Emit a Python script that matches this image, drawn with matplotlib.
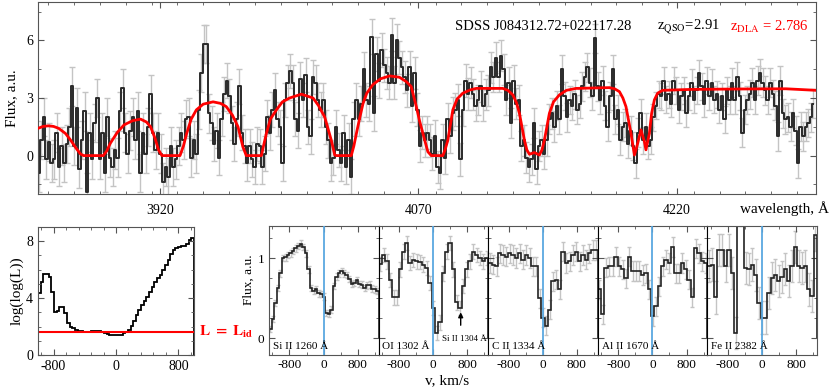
import numpy as np
import matplotlib
matplotlib.use("Agg")
import matplotlib.pyplot as plt
from matplotlib.ticker import MultipleLocator
import matplotlib.transforms as mtransforms

# ---------------- data ----------------
# top panel: observed flux (a.u.), uniform grid from 3849.5 to 4299.5 A
flux = [
    -0.9, 0.8, 2.0, -0.2, 0.7, -0.4, -0.2, 1.2, -0.6, 0.5, -0.4, 0.6, 1.5, 3.6, 0.5, 2.5,
    -0.7, 0.8, 2.3, -1.9, 1.2, -0.2, 1.7, 3.0, -0.2, 1.2, -0.9, 2.0, -0.1, -0.6, 0.3, -0.1,
    2.3, 3.5, 1.2, 0.1, 1.3, 2.0, 0.8, 2.3, -0.9, 1.2, 0.1, 1.5, 3.2, 1.2, 0.3, 1.2,
    0.1, -1.4, -0.6, -1.1, 0.5, -0.6, -0.2, 0.5, 1.2, 0.8, 1.9, 2.0, -0.1, 0.8, 0.1, 2.4,
    4.3, 5.8, 5.8, 2.2, 1.7, 0.6, 1.3, -0.1, 1.9, 3.2, 3.9, 3.1, 1.7, 0.6,
    1.9, 3.6, 1.2, 0.5, -0.4, 0.5, -0.2, -0.6, 0.6, 0.5, -0.6, 0.1, 2.0, 1.2, 2.4, 3.4,
    1.9, 1.5, -0.4, 2.9, 3.8, 4.4, 3.8, 1.9, 1.3, 4.0, 2.9, 4.2, 1.5, 1.0, 4.1, 3.8,
    2.9, 2.4, 2.9, 1.5, 0.8, -0.4, -0.1, 1.5, 0.3, -0.4, 1.2, -0.6, 0.8, -1.1, 1.9, 2.9,
    1.9, 2.7, 4.5, 2.9, 2.7, 6.2, 2.2, 5.3, 3.9, 5.5, 4.7, 4.3, 3.8, 6.3, 3.8, 6.0,
    5.1, 4.6, 4.1, 3.4, 4.6, 2.6, 4.3, 2.4, 0.5, 1.2, 0.8,
    1.2, 0.8, 0.1, 1.0, -0.6, -0.9, 0.8, -0.1, 1.9, 1.0, 2.2, 2.4, 2.9, -0.2, 2.4, 3.9,
    3.2, 3.8, 3.2, 2.6, 2.9, 3.6, 2.6, 3.2, 3.4, 4.6, 4.1, 5.1, 4.1, 5.2, 4.5, 2.9,
    3.8, 1.7, 3.9, 2.7, 2.9, 0.5, 0.8, -0.1, -0.6, -0.2, 1.7, -0.7, 0.5, 0.8, 0.1, 0.8,
    1.9, 2.2, 1.5, 2.6, 1.9, 4.5, 3.1, 2.0, 2.9, 2.6, 3.2, 2.4, 2.7, 3.6, 4.1, 4.6,
    3.8, 3.1, 6.1, 3.6, 2.9, 3.9, 2.6, 1.5, 3.1, 4.5, 1.9, 2.4, 0.8,
    1.5, 1.7, 0.6, 1.3, 0.5, -0.4, 1.2, 2.2, 0.8, 1.5, 0.5, 0.8, 2.0, 2.6, 3.2, 3.1,
    3.9, 2.9, 3.2, 2.7, 3.9, 3.4, 2.4, 3.1, 3.4, 2.2, 3.1, 3.8, 2.9, 3.4, 4.3, 3.6,
    2.7, 3.9, 3.1, 3.8, 2.9, 3.2, 2.4, 3.1, 1.9, 3.4, 2.9, 3.8, 2.9, 4.1, 3.1, 1.2,
    2.4, 2.9, 3.2, 3.8, 2.9, 3.9, 4.3, 3.8, 3.4, 2.9, 3.8, 3.2, 2.6, 1.0, 3.9, 2.2,
    1.9, 2.0, 1.5, 2.2, 1.3, -0.4, 1.5, 1.0, 1.5, 1.7, 2.0, 2.7,
]
# typical 1-sigma error in 9 consecutive chunks of the spectrum
flux_err_chunks = [1.0, 1.0, 0.9, 0.9, 0.85, 0.8, 0.75, 0.7, 0.75]

# red DLA model
model_wl = [3849, 3852, 3855, 3858, 3861, 3865, 3868, 3871, 3873.6, 3875.5, 3887, 3889, 3891,
            3895, 3899, 3904, 3908.6, 3912, 3914.4, 3917, 3919, 3921, 3931.5, 3933.5, 3935.4,
            3938, 3941, 3945, 3950.7, 3955, 3958.4, 3962, 3965.2, 3968, 3970, 3978.8, 3980,
            3981.7, 3984, 3987.5, 3991, 3995.2, 4002, 4008.8, 4012, 4015.6, 4017.5, 4019.4,
            4021.4, 4022.5, 4031, 4032.5, 4034, 4036, 4037.8, 4040, 4043.6, 4048, 4053.3,
            4059, 4063, 4065.8, 4068.8, 4070.7, 4072.6, 4075.5, 4077.5, 4084.2, 4085.5,
            4087.1, 4090, 4092.5, 4095.8, 4100, 4103.6, 4119, 4122, 4124.9, 4127, 4128.7,
            4131.6, 4133, 4134.5, 4137.4, 4140.3, 4141.8, 4143.2, 4146.1, 4148.5, 4151.9,
            4156, 4161.6, 4181, 4184, 4186.8, 4188.8, 4190.6, 4193.5, 4195.5, 4197.4, 4199.3,
            4201.3, 4202.2, 4204.2, 4205.5, 4207.1, 4209, 4211.9, 4229.3, 4258.3, 4283.5, 4301]
model_flux = [1.42, 1.52, 1.55, 1.52, 1.42, 1.15, 0.8, 0.4, 0.09, 0.0, 0.0, 0.25, 0.64,
              1.2, 1.6, 1.82, 1.9, 1.75, 1.5, 0.9, 0.3, 0.0, 0.0, 0.5, 1.16,
              1.9, 2.38, 2.68, 2.8, 2.72, 2.55, 2.1, 1.5, 0.47, 0.0, 0.0, 0.5,
              1.16, 1.9, 2.38, 2.8, 3.0, 3.2, 3.0, 2.6, 2.0, 1.4, 0.8,
              0.03, 0.0, 0.0, 0.5, 1.16, 2.0, 2.7, 3.25, 3.7, 4.0, 4.15,
              4.08, 3.85, 3.6, 2.55, 1.8, 1.16, 0.2, 0.0, 0.0, 0.3,
              0.8, 2.38, 2.95, 3.25, 3.42, 3.5, 3.5, 3.4, 3.16, 2.75, 2.2,
              0.8, 0.3, 0.07, 0.16, 0.03, 0.3, 0.8, 2.2, 2.8, 3.16,
              3.4, 3.5, 3.54, 3.48, 3.33, 3.0, 2.55, 1.16, 0.03, 0.64, 1.34,
              0.73, 0.3, 1.16, 2.2, 2.9, 3.25, 3.4, 3.45, 3.47, 3.48, 3.4]

# bottom-left: log(log(L)) vs velocity offset, bins from -1000 to 1000 km/s
loglogL = [4.33, 5.15, 5.73, 5.73, 5.5, 4.44, 3.04, 3.09, 3.39, 3.39, 2.92, 2.22, 1.99,
           1.87, 1.78, 1.72, 1.66, 1.62, 1.6, 1.62, 1.66, 1.7, 1.71, 1.69, 1.62, 1.55,
           1.47, 1.43, 1.40, 1.38, 1.39, 1.43, 1.52, 1.62, 1.75, 2.05, 2.4, 2.81, 3.16,
           3.51, 3.79, 4.09, 4.44, 4.8, 5.1, 5.38, 5.66, 5.96, 6.32, 6.71, 7.13, 7.37,
           7.53, 7.6, 7.63, 7.67, 7.8, 8.1, 8.23]
L_id = 1.6

# bottom-right: metal line profiles, bins from -1280 to 1290 km/s
line_names = ["Si II 1260 Å", "OI 1302 Å", "C II 1334 Å", "Al II 1670 Å", "Fe II 2382 Å"]
si1260 = [0.12, 0.24, 0.44, 0.63, 0.81, 1.0, 1.01, 1.04, 1.06, 1.09, 1.12, 1.15, 1.18, 1.14,
          1.06, 0.86, 0.63, 0.59, 0.61, 0.56, 0.55, 0.52, 0.32, 0.31, 0.36, 0.65, 0.77, 0.81,
          0.84, 0.81, 0.79, 0.74, 0.68, 0.69, 0.73, 0.68, 0.67, 0.63, 0.66, 0.67, 0.62, 0.61,
          0.59]
oi1302 = [0.93, 1.04, 0.96, 0.73, 0.51, 0.51, 0.86, 1.08, 1.19, 0.94, 0.98, 0.96, 0.95, 0.92,
          0.88, 0.69, 0.38, 0.07, 0.2, 0.81, 1.08, 1.19, 0.86, 0.45, 0.38, 0.65, 0.86, 0.96,
          1.08, 1.04, 1.0, 0.96, 1.0]
cii1334 = [0.94, 0.92, 0.9, 1.06, 1.04, 1.02, 1.06, 1.04, 1.0, 1.06, 0.98, 1.04, 1.0, 0.9, 0.9,
           0.5, 0.26, 0.16, 0.36, 0.71, 0.73, 0.61, 1.08, 0.94, 0.96, 1.04, 1.08, 0.96, 1.04,
           0.98, 1.06, 1.1, 1.1]
alii1670 = [0.61, 0.30, 0.88, 0.9, 0.9, 1.02, 0.9, 0.86, 0.75, 1.02, 0.84, 0.84, 0.84, 0.79,
            0.81, 0.61, 0.28, 0.40, 0.65, 0.9, 0.98, 0.94, 1.14, 0.81, 0.81, 0.94, 0.86, 0.73,
            0.51, 1.12, 1.06, 0.96, 0.94]
feii2382 = [0.9, 0.92, 0.51, 1.1, 1.1, 0.9, 1.1, 0.81, 0.07, 1.6, 1.6, 0.88, 0.86, 0.92, 0.79,
            0.44, 0.26, 0.26, 0.57, 0.75, 0.79, 0.71, 0.77, 0.86, 0.71, 0.9, 1.14, 0.9, 0.88,
            0.9, 0.61, 0.53, 1.29]
line_fluxes = [si1260, oi1302, cii1334, alii1670, feii2382]
line_errs = [0.04, 0.09, 0.12, 0.12, 0.2]

# ---------------- style ----------------
plt.rcParams['font.family'] = ['Liberation Serif', 'DejaVu Serif']
plt.rcParams['mathtext.fontset'] = 'stix'
plt.rcParams['axes.unicode_minus'] = False
plt.rcParams['xtick.direction'] = 'in'
plt.rcParams['ytick.direction'] = 'in'
plt.rcParams['xtick.top'] = True
plt.rcParams['ytick.right'] = True
plt.rcParams['xtick.major.size'] = 4
plt.rcParams['ytick.major.size'] = 4
plt.rcParams['xtick.minor.size'] = 2
plt.rcParams['ytick.minor.size'] = 2
plt.rcParams['xtick.minor.visible'] = True
plt.rcParams['ytick.minor.visible'] = True
plt.rcParams['axes.edgecolor'] = '#555555'
plt.rcParams['xtick.color'] = '#555555'
plt.rcParams['ytick.color'] = '#555555'
plt.rcParams['xtick.labelcolor'] = 'black'
plt.rcParams['ytick.labelcolor'] = 'black'

W, H = 830, 389
fig = plt.figure(figsize=(W / 100, H / 100), dpi=100)


def box(x0, y0, x1, y1):
    # pixel box (top-left origin) -> figure fraction rect
    return [x0 / W, 1 - y1 / H, (x1 - x0) / W, (y1 - y0) / H]


# ---------------- top panel: spectrum ----------------
ax = fig.add_axes(box(38, 2, 816, 194))
wl = np.linspace(3849.5, 4299.5, len(flux))
err = np.repeat(flux_err_chunks, int(np.ceil(len(flux) / len(flux_err_chunks))))[:len(flux)]
ax.errorbar(wl, flux, yerr=err, fmt='none', ecolor='#c4c4c4', elinewidth=1,
            capsize=2, capthick=1, zorder=1)
ax.step(wl, flux, where='mid', color='#2a2a2a', lw=1.4, zorder=2)
ax.plot(model_wl, model_flux, color='red', lw=2, zorder=3)
ax.set_xlim(3849, 4301)
ax.set_ylim(-2, 8)
ax.set_xticks([3920, 4070, 4220])
ax.xaxis.set_minor_locator(MultipleLocator(15))
ax.set_yticks([0, 3, 6])
ax.yaxis.set_minor_locator(MultipleLocator(1.5))
ax.tick_params(labelsize=10)
ax.tick_params(axis='x', pad=7)
fig.text(12 / W, 1 - 98 / H, "Flux, a.u.", rotation=90, ha='center', va='center', fontsize=11)
fig.text(829 / W, 1 - 209 / H, "wavelength, Å", ha='right', va='center', fontsize=11)
fig.text(543 / W, 1 - 27 / H, "SDSS J084312.72+022117.28", ha='center', va='center', fontsize=10.5)
fig.text(657 / W, 1 - 27 / H, r"z$_{\rm QSO}$=2.91", ha='left', va='center', fontsize=10.5)
fig.text(730 / W, 1 - 27 / H, r"z$_{\rm DLA}$ = 2.786", ha='left', va='center', fontsize=10.5,
         color='red')

# ---------------- bottom-left: likelihood ----------------
axl = fig.add_axes(box(38, 227, 194, 355))
axl.stairs(loglogL, np.linspace(-1000, 1000, len(loglogL) + 1), color='black', lw=1.3)
axl.axhline(L_id, color='red', lw=1.5)
axl.set_xlim(-1000, 1000)
axl.set_ylim(0, 9)
axl.set_xticks([-800, 0, 800])
axl.xaxis.set_minor_locator(MultipleLocator(160))
axl.set_yticks([0, 4, 8])
axl.yaxis.set_minor_locator(MultipleLocator(1))
axl.tick_params(labelsize=10)
trans = mtransforms.blended_transform_factory(axl.transAxes, axl.transData)
axl.text(1.03, L_id, r"$\mathbf{L\ =\ L_{id}}$", transform=trans, color='red',
         ha='left', va='center', fontsize=11, clip_on=False)
fig.text(17 / W, 1 - 291 / H, "log(log(L))", rotation=90, ha='center', va='center', fontsize=11)

# ---------------- bottom-right: metal lines ----------------
x0, x1 = 269, 817
pw = (x1 - x0) / len(line_names)
for k, (name, vals, e) in enumerate(zip(line_names, line_fluxes, line_errs)):
    a = fig.add_axes(box(x0 + k * pw, 226, x0 + (k + 1) * pw, 354.5))
    edges = np.linspace(-1280, 1290, len(vals) + 1)
    centers = 0.5 * (edges[:-1] + edges[1:])
    a.errorbar(centers, vals, yerr=e, fmt='none', ecolor='#c4c4c4', elinewidth=1,
               capsize=1.5, capthick=1, zorder=1)
    a.stairs(vals, edges, color='#222222', lw=1.2, zorder=2)
    a.axvline(0, color='#5aa8e0', lw=1.3, zorder=3)
    a.set_xlim(-1280, 1290)
    a.set_ylim(-0.2, 1.4)
    a.set_xticks([-800, 0, 800])
    a.xaxis.set_minor_locator(MultipleLocator(400))
    a.set_yticks([0, 1])
    a.yaxis.set_minor_locator(MultipleLocator(0.25))
    a.tick_params(labelsize=9.5)
    if k > 0:
        a.tick_params(labelleft=False)
        a.spines['left'].set_color('black')
    a.text(0.035, 0.066, name, transform=a.transAxes, ha='left', va='center', fontsize=8)
    if k == 1:
        a.annotate("", xy=(645, 0.36), xytext=(645, 0.13),
                   arrowprops=dict(arrowstyle='-|>', color='black', lw=1, mutation_scale=7))
        a.text(734, -0.005, "Si II 1304 Å", ha='center', va='center', fontsize=6.5)

fig.text(249 / W, 1 - 280 / H, "Flux, a.u.", rotation=90, ha='center', va='center', fontsize=9.5)
fig.text(447 / W, 1 - 381 / H, "v, km/s", ha='center', va='center', fontsize=11)

fig.savefig("out.png", dpi=100)
